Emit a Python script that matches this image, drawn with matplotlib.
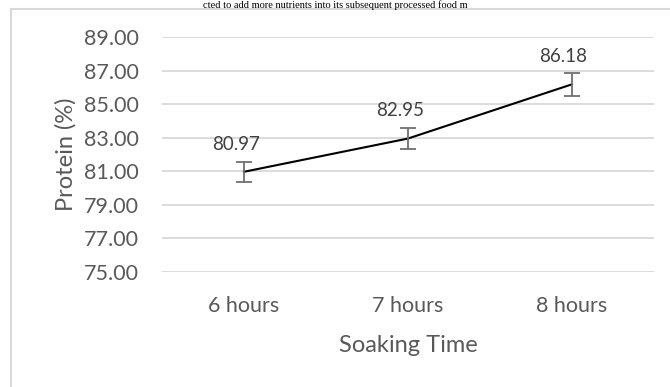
import matplotlib.pyplot as plt
from matplotlib.lines import Line2D

categories = ["6 hours", "7 hours", "8 hours"]
protein = [80.97, 82.95, 86.18]
errors = [0.6, 0.6, 0.7]
yticks = [75, 77, 79, 81, 83, 85, 87, 89]

plt.rcParams["font.family"] = ["Lato", "DejaVu Sans"]
grey = "#595959"

fig = plt.figure(figsize=(6.7, 3.87), dpi=100)
ax = fig.add_axes([0.2418, 0.2972, 0.976 - 0.2418, 0.9044 - 0.2972])

x = range(len(categories))
ax.plot(x, protein, color="black", linewidth=1.5, zorder=3)
ax.errorbar(x, protein, yerr=errors, fmt="none", ecolor="#6f6f6f",
            elinewidth=1.3, capsize=6, capthick=1.3, zorder=4)

# data labels sit a fixed distance above each point
for xi, v in zip(x, protein):
    ax.annotate(f"{v:.2f}", (xi, v), xytext=(-6, 20), textcoords="offset points",
                ha="center", va="center", fontsize=13.5, color="#404040")

ax.set_xlim(-0.5, len(categories) - 0.5)
ax.set_ylim(75, 89)
ax.set_yticks(yticks)
ax.set_yticklabels([f"{t:.2f}" for t in yticks])
ax.set_xticks(list(x))
ax.set_xticklabels(categories)
ax.tick_params(axis="both", length=0, labelsize=15.5, labelcolor=grey)
ax.tick_params(axis="y", pad=17)
ax.tick_params(axis="x", pad=17)
ax.grid(axis="y", color="#d9d9d9", linewidth=1.3)
ax.set_axisbelow(True)
for s in ax.spines.values():
    s.set_visible(False)

ax.set_ylabel("Protein (%)", fontsize=17, color=grey, labelpad=5)
ax.set_xlabel("Soaking Time", fontsize=17, color=grey, labelpad=14)

# chart frame (left and top edges visible)
fig.add_artist(Line2D([11 / 670, 11 / 670], [0, 1 - 9 / 387], color="#d9d9d9",
                      linewidth=1.5, transform=fig.transFigure))
fig.add_artist(Line2D([11 / 670, 1], [1 - 9 / 387, 1 - 9 / 387], color="#d9d9d9",
                      linewidth=1.5, transform=fig.transFigure))

# document text above the chart
fig.text(0.5, 1.0, "cted to add more nutrients into its subsequent processed food m",
         ha="center", va="top", fontsize=7.5, family="Liberation Serif", color="black")

fig.savefig("out.png", dpi=100)
